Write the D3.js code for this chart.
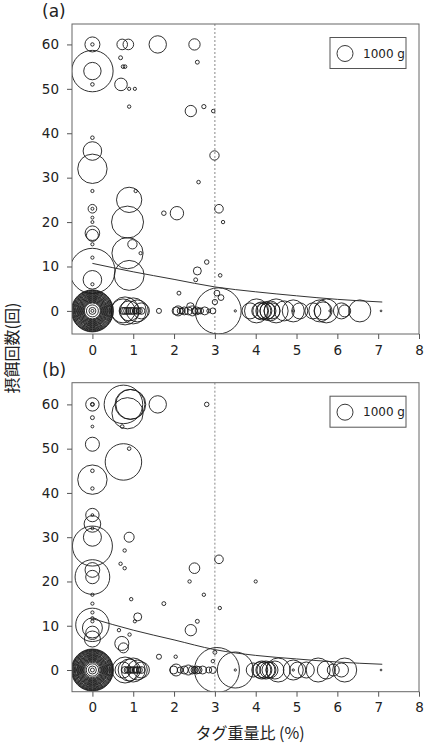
<!DOCTYPE html>
<html>
<head>
<meta charset="utf-8">
<script src="https://cdn.jsdelivr.net/npm/d3@7/dist/d3.min.js"></script>
<style>
  body { margin: 0; background: #fff; }
  svg { display: block; }
  .tick text { font-family: "DejaVu Sans", Verdana, sans-serif; font-size: 13.5px; fill: #222; }
  .tick line { stroke: #555; }
</style>
</head>
<body>
<div id="chart"></div>
<script>
var svgWidth = 425;
var svgHeight = 746;

// x = tag weight ratio (%), y = feeding count, g = body weight (g)
var panelAPoints = [
  [0,60,880],[0,60,45],[0.73,60,440],[0.88,60,440],[1.6,60,1180],[2.5,60,500],
  [0.69,57,60],[2.57,56,60],[0.75,55,50],[0.8,55,50],
  [0,54,6700],[0,54,1180],[0,51,50],[0.7,51,620],[0.9,50,40],[1.04,50,40],
  [0.9,46,45],[2.41,45,500],[2.73,46,70],[2.96,45,50],
  [0,39,50],[0,36,1350],[0,32,3370],[2.99,35,340],
  [0,27,40],[0.9,25,2500],[1.06,27,45],[0,23,290],[0,23,35],[0,21,35],[0,20,35],
  [0,17.5,830],[0,17,560],[0,15,40],[0.86,20,4000],[0.98,15,340],[0.86,13,3800],[1.18,13,40],
  [1.75,22,80],[2.07,22,700],[2.6,29,50],[3.1,23,290],[3.2,20,45],
  [0,12,40],[0,9,8000],[0,7,1350],[0,6,40],[0.9,8,3500],[2.8,11,80],[2.57,9,250],[2.53,7,60],[3.13,8,50],
  [2.12,4,60],[3.05,4,130],[3.15,3,130],[3.0,2,110],[2.4,1,220],
  // row at zero
  [0,0,6890],[0,0,6570],[0,0,6250],[0,0,5820],[0,0,5460],[0,0,5060],[0,0,4680],[0,0,4360],
  [0,0,4000],[0,0,3660],[0,0,3380],[0,0,3060],[0,0,2760],[0,0,2520],[0,0,2250],[0,0,2000],
  [0,0,1790],[0,0,1560],[0,0,1350],[0,0,1180],[0,0,1000],[0,0,560],[0,0,190],[0,0,35],
  [0.75,0,2250],[0.8,0,3060],[0.9,0,1560],[1.0,0,2640],[1.1,0,1890],[1.2,0,1000],
  [0.75,0,190],[0.8,0,190],[0.85,0,190],[0.9,0,190],[0.95,0,190],[1.0,0,190],[1.05,0,140],[1.1,0,190],[1.15,0,140],[1.2,0,190],
  [1.63,0,100],
  [2.05,0,250],[2.1,0,390],[2.15,0,140],[2.2,0,140],[2.25,0,250],[2.35,0,250],[2.45,0,390],
  [2.5,0,140],[2.55,0,250],[2.6,0,140],[2.65,0,140],[2.75,0,250],[2.85,0,60],[2.95,0,140],
  [3.08,0,8300],[3.5,0,20],
  [3.86,0,1000],[4.02,0,2250],[4.1,0,1000],[4.15,0,1270],[4.2,0,1000],[4.25,0,1270],[4.3,0,1000],
  [4.35,0,1560],[4.4,0,1000],[4.5,0,2250],[4.7,0,1560],[4.92,0,1890],[4.92,0,20],[5.08,0,1000],
  [5.4,0,1000],[5.57,0,1890],[5.65,0,1270],[5.73,0,2250],[5.82,0,20],[6.1,0,1000],[6.18,0,560],
  [6.55,0,1890],[7.07,0,12]
];

var panelBPoints = [
  [0,60,700],[0,60,60],[0,60,40],[0,57,60],[0,55,30],[0.76,60,5800],[0.92,60,3500],[0.94,60,3500],
  [0.86,58,3800],[0.73,55,50],[1.6,60,1180],[2.8,60,80],
  [0,51,770],[0.76,47,5200],[0.9,50,50],[0,43,3370],[0,45,50],[0,41,45],
  [0,35,700],[0,35,30],[0,33,1080],[0,32,30],[0,30,1270],[0,28,6250],[0.9,30,390],
  [0.79,27,45],[0.69,24,45],[0.79,23,45],[0,22.6,850],[0,21,700],[0,21,4700],[0,17,40],[0,15,40],
  [2.5,23,440],[2.38,20,45],[2.73,17,45],[3.1,25,290],[4.0,20,40],[0.95,16,45],[1.75,15,60],[3.12,14,45],
  [0,13,40],[0,11.7,40],[0,11,40],[0,10.2,4350],[0,9.5,1560],[0,8.4,700],[0,7,1000],
  [1.11,12,250],[1.04,11,40],[0.65,9,45],[0.91,8,45],[0.72,6,770],[0.76,5,390],
  [2.41,9,500],[2.57,11,60],[1.63,3,100],[2.04,3,45],[2.95,2,45],[3.0,4,60],
  // row at zero
  [0,0,6890],[0,0,6570],[0,0,6250],[0,0,5900],[0,0,5500],[0,0,5100],[0,0,4700],[0,0,4400],
  [0,0,4000],[0,0,3700],[0,0,3400],[0,0,3100],[0,0,2800],[0,0,2500],[0,0,2250],[0,0,2000],
  [0,0,1800],[0,0,1560],[0,0,1350],[0,0,1150],[0,0,900],[0,0,600],[0,0,250],[0,0,60],
  [0.75,0,1000],[0.8,0,2640],[0.9,0,1890],[1.0,0,2250],[1.1,0,1560],[1.2,0,1000],
  [0.8,0,190],[0.85,0,140],[0.9,0,190],[0.95,0,140],[1.0,0,190],[1.05,0,140],[1.1,0,190],[1.15,0,140],[1.2,0,190],
  [1.99,0,250],[2.05,0,560],[2.15,0,140],[2.25,0,250],[2.35,0,390],[2.45,0,250],[2.5,0,190],
  [2.55,0,250],[2.6,0,190],[2.7,0,250],[2.85,0,140],[2.95,0,190],
  [3.05,0,7900],[3.5,0,5060],[3.5,0,20],
  [3.94,0,770],[4.1,0,1000],[4.15,0,1270],[4.2,0,1000],[4.25,0,1270],[4.3,0,1000],[4.35,0,1000],
  [4.47,0,1270],[4.55,0,2250],[4.92,0,1560],[4.92,0,20],[5.03,0,1000],[5.24,0,1000],[5.53,0,2250],
  [5.73,0,1270],[5.9,0,560],[6.1,0,770],[6.18,0,2250],[7.07,0,12]
];

// fitted curves
var fitX = [0, 1, 2, 3, 4, 5, 6, 7.1];
var fitA = [10.7, 8.8, 7.1, 5.4, 4.3, 3.4, 2.6, 2.0];
var fitB = [11.6, 9.0, 6.8, 4.6, 3.3, 2.5, 1.8, 1.3];

var xTicks = [0, 1, 2, 3, 4, 5, 6, 7, 8];
var yTicks = [0, 10, 20, 30, 40, 50, 60];
var legendWeight = 1000;
var cutoff = 3;

var svg = d3.select("#chart").append("svg")
  .attr("width", svgWidth)
  .attr("height", svgHeight);

var x = d3.scaleLinear().domain([-0.5, 8]).range([72, 419]);
var r = d3.scaleSqrt().domain([0, legendWeight]).range([0, 8]);

function drawPanel(points, fitY, top, bottom, yDomain, label, id) {
  var y = d3.scaleLinear().domain(yDomain).range([bottom, top]);
  var g = svg.append("g");

  g.append("clipPath").attr("id", id)
    .append("rect").attr("x", 72).attr("y", top)
    .attr("width", 419 - 72).attr("height", bottom - top);

  var plot = g.append("g").attr("clip-path", "url(#" + id + ")");

  plot.append("line")
    .attr("x1", x(cutoff)).attr("x2", x(cutoff))
    .attr("y1", top).attr("y2", bottom)
    .attr("stroke", "#888").attr("stroke-width", 1)
    .attr("stroke-dasharray", "2,2");

  plot.selectAll("circle")
    .data(points)
    .enter()
    .append("circle")
    .attr("cx", d => x(d[0]))
    .attr("cy", d => y(d[1]))
    .attr("r", d => r(d[2]))
    .attr("fill", "none")
    .attr("stroke", "#1a1a1a")
    .attr("stroke-width", 0.9);

  var line = d3.line()
    .x(d => x(d[0]))
    .y(d => y(d[1]))
    .curve(d3.curveMonotoneX);
  plot.append("path")
    .datum(fitX.map((v, i) => [v, fitY[i]]))
    .attr("d", line)
    .attr("fill", "none")
    .attr("stroke", "#333")
    .attr("stroke-width", 1);

  g.append("rect")
    .attr("x", 72).attr("y", top)
    .attr("width", 419 - 72).attr("height", bottom - top)
    .attr("fill", "none").attr("stroke", "#666").attr("stroke-width", 1);

  g.append("g")
    .attr("transform", `translate(72,0)`)
    .call(d3.axisLeft(y).tickValues(yTicks).tickSize(5).tickPadding(8))
    .call(a => a.select(".domain").remove());

  g.append("g")
    .attr("transform", `translate(0,${bottom})`)
    .call(d3.axisBottom(x).tickValues(xTicks).tickSize(5).tickPadding(6))
    .call(a => a.select(".domain").remove());

  // legend
  var lg = g.append("g").attr("transform", `translate(330,${top + 13.5})`);
  lg.append("rect")
    .attr("width", 76).attr("height", 31)
    .attr("fill", "#fff").attr("stroke", "#555").attr("stroke-width", 1);
  lg.append("circle")
    .attr("cx", 15).attr("cy", 16)
    .attr("r", r(legendWeight))
    .attr("fill", "none").attr("stroke", "#222").attr("stroke-width", 0.9);
  lg.append("text")
    .attr("x", 33).attr("y", 20)
    .style("font-family", "DejaVu Sans, Verdana, sans-serif")
    .style("font-size", "12px")
    .attr("fill", "#222")
    .text(legendWeight + " g");

  svg.append("text")
    .attr("x", 42).attr("y", top - 7)
    .style("font-family", "DejaVu Sans, Verdana, sans-serif")
    .style("font-size", "17px")
    .attr("fill", "#222")
    .text(label);
}

drawPanel(panelAPoints, fitA, 24, 334, [-5.2, 64.6], "(a)", "clipA");
drawPanel(panelBPoints, fitB, 382.7, 691.7, [-4.9, 64.9], "(b)", "clipB");

svg.append("text")
  .attr("x", 250).attr("y", 739)
  .attr("text-anchor", "middle")
  .style("font-family", "Noto Sans CJK JP, sans-serif")
  .style("font-size", "16px")
  .attr("fill", "#222")
  .text("タグ重量比 (%)");

svg.append("text")
  .attr("transform", "translate(18,348) rotate(-90)")
  .attr("text-anchor", "middle")
  .style("font-family", "Noto Sans CJK JP, sans-serif")
  .style("font-size", "16px")
  .attr("fill", "#222")
  .text("摂餌回数(回)");
</script>
</body>
</html>
